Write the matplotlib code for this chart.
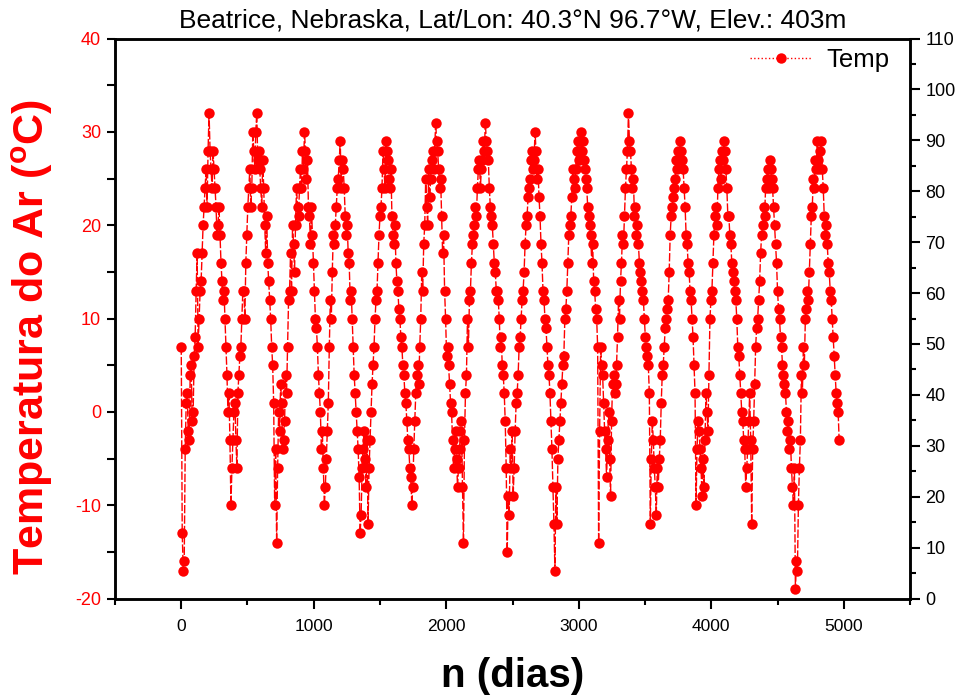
import numpy as np
import matplotlib
matplotlib.use("Agg")
import matplotlib.pyplot as plt
from matplotlib.ticker import MultipleLocator

# readings every 7.5 days, stored as two interleaved lists
step_days = 7.5
temps_a = [
    7, -17, -4, 2, -3, 5, 0, 8, 17, 10, 14, 20, 24, 22, 32, 26, 28, 24, 19, 22,
    16, 12, 10, 4, 2, -10, -3, 1, -6, 4, 7, 13, 10, 19, 24, 22, 30, 26, 32, 28,
    24, 27, 20, 21, 14, 10, 5, -10, -14, 0, 3, -4, -1, 2, 12, 17, 20, 15, 24, 21,
    26, 28, 30, 25, 22, 18, 19, 13, 9, 4, 0, -2, -10, -5, 1, 12, 15, 18, 22, 25,
    29, 27, 24, 19, 17, 12, 10, 4, 0, -4, -13, -6, -2, -8, -12, -3, 3, 7, 12, 16,
    21, 24, 26, 29, 27, 24, 21, 18, 16, 13, 10, 7, 4, 1, -3, -6, -10, -4, 2, 5,
    7, 15, 18, 25, 20, 23, 27, 26, 31, 28, 24, 21, 19, 10, 7, 3, 0, -6, -2, -8,
    -4, -1, -14, 2, 10, 12, 16, 19, 22, 24, 27, 26, 29, 31, 28, 24, 21, 18, 15, 13,
    10, 8, 4, -1, -15, -11, -6, -9, -2, 2, 7, 10, 13, 18, 21, 24, 27, 26, 30, 25,
    23, 18, 13, 10, 7, 4, -1, -8, -17, -12, -3, 1, 5, 10, 13, 19, 21, 26, 24, 28,
    27, 30, 29, 26, 24, 21, 19, 18, 13, 10, -14, 7, 4, -2, -7, 0, -9, 3, 2, 5,
    12, 14, 19, 21, 26, 32, 28, 24, 21, 19, 18, 15, 13, 10, 7, 5, -12, -1, -6, -11,
    -8, -3, 4, 7, 10, 12, 19, 22, 24, 27, 28, 29, 27, 24, 19, 16, 13, 10, 5, -10,
    -1, -4, -9, -8, 2, -2, 10, 13, 19, 22, 24, 27, 28, 29, 26, 21, 19, 16, 14, 12,
    7, 4, 0, -3, -8, -4, 2, -12, -1, 7, 10, 14, 19, 22, 24, 26, 27, 25, 22, 18,
    13, 10, 7, 4, 2, -2, -4, -6, -10, -19, -17, -6, 4, 7, 10, 13, 15, 21, 25, 27,
    29, 26, 29, 24, 19, 18, 15, 12, 8, 4, 1, -3,
]
temps_b = [
    -13, -16, 1, -2, 4, -1, 6, 13, 7, 13, 17, 22, 26, 28, 28, 24, 26, 22, 20, 19,
    14, 13, 7, 0, -3, -6, 0, -3, 2, 6, 10, 13, 16, 22, 26, 24, 28, 30, 27, 26,
    22, 24, 17, 16, 12, 7, 1, -4, -6, -2, 1, -3, 4, 7, 13, 13, 18, 20, 22, 24,
    24, 26, 28, 27, 21, 22, 16, 10, 7, 2, -4, -6, -8, -2, 7, 10, 19, 20, 24, 27,
    24, 26, 21, 20, 16, 13, 7, 2, -2, -7, -11, -4, -5, -3, -6, 0, 5, 10, 13, 19,
    22, 28, 24, 28, 25, 26, 19, 20, 14, 11, 8, 5, 2, -1, -4, -7, -8, -1, 4, 3,
    10, 13, 20, 22, 26, 25, 28, 28, 29, 26, 25, 17, 13, 6, 5, 1, -3, -4, -5, -6,
    -2, -8, -3, 4, 7, 13, 18, 20, 21, 26, 24, 27, 28, 29, 27, 22, 20, 16, 13, 12,
    7, 5, 2, -6, -9, -4, -2, -6, 1, 4, 8, 12, 15, 20, 23, 25, 28, 27, 28, 26,
    21, 16, 12, 9, 5, 2, -4, -12, -8, -5, -1, 3, 6, 11, 16, 20, 23, 25, 26, 29,
    28, 28, 27, 25, 22, 20, 16, 14, 11, 7, -2, 5, 1, -4, -3, -5, -1, 4, 3, 8,
    10, 16, 18, 24, 28, 29, 26, 25, 22, 20, 16, 14, 12, 8, 6, 2, -5, -3, -8, -6,
    -5, 1, 5, 9, 11, 15, 21, 23, 25, 26, 27, 28, 26, 22, 18, 15, 12, 8, 2, -4,
    -2, -6, -5, -3, 0, 4, 12, 16, 21, 20, 26, 25, 27, 28, 24, 21, 18, 15, 13, 10,
    6, 2, -1, -4, -6, -1, -3, -4, 3, 9, 12, 17, 20, 21, 25, 24, 26, 24, 20, 16,
    11, 8, 5, 3, 0, -1, -3, -8, -6, -16, -10, -3, 2, 5, 11, 12, 18, 22, 24, 26,
    27, 28, 26, 21, 20, 16, 13, 10, 6, 2, 0,
]

title = "Beatrice, Nebraska, Lat/Lon: 40.3°N 96.7°W, Elev.: 403m"
xlabel = "n (dias)"
ylabel = r"Temperatura do Ar ($\mathbf{^o}$C)"
series_name = "Temp"

temps = []
for i, a in enumerate(temps_a):
    temps.append(a)
    if i < len(temps_b):
        temps.append(temps_b[i])
days = np.arange(len(temps)) * step_days

plt.rcParams['font.family'] = ['Liberation Sans', 'DejaVu Sans']
plt.rcParams['mathtext.fontset'] = 'custom'
plt.rcParams['mathtext.bf'] = 'Liberation Sans:bold'
plt.rcParams['mathtext.rm'] = 'Liberation Sans'
plt.rcParams['axes.unicode_minus'] = False

fig = plt.figure(figsize=(9.63, 7.0), dpi=100)
ax = fig.add_axes([0.1194, 0.145, 0.8256, 0.800])

ax.plot(days, temps, color='red', linestyle=(0, (6, 1.5)), linewidth=1.0,
        marker='o', markersize=7.5, markeredgewidth=0, label=series_name)

ax.set_xlim(-500, 5500)
ax.set_ylim(-20, 40)
ax.xaxis.set_major_locator(MultipleLocator(1000))
ax.xaxis.set_minor_locator(MultipleLocator(500))
ax.yaxis.set_major_locator(MultipleLocator(10))
ax.yaxis.set_minor_locator(MultipleLocator(5))

for s in ax.spines.values():
    s.set_linewidth(1.8)

ax.tick_params(axis='x', which='major', direction='out', length=7, width=1.5,
               labelsize=12.5, colors='black', pad=8)
ax.tick_params(axis='x', which='minor', direction='out', length=4, width=1.5)
ax.tick_params(axis='y', which='major', direction='out', length=6, width=1.5,
               labelsize=13, labelcolor='red', color='black', pad=4)
ax.tick_params(axis='y', which='minor', direction='out', length=6, width=1.5)

ax.set_xlabel(xlabel, fontsize=29, fontweight='bold', labelpad=16)
ax.set_ylabel(ylabel, fontsize=31, fontweight='bold', color='red')
ax.yaxis.set_label_coords(-0.075, 0.467)
ax.set_title(title, fontsize=19, pad=8)

ax2 = ax.twinx()
ax2.set_ylim(0, 110)
ax2.yaxis.set_major_locator(MultipleLocator(10))
ax2.yaxis.set_minor_locator(MultipleLocator(5))
ax2.tick_params(axis='y', which='major', direction='out', length=7, width=1.5,
                labelsize=13, pad=4)
ax2.tick_params(axis='y', which='minor', direction='out', length=4, width=1.5)
for s in ax2.spines.values():
    s.set_linewidth(1.8)

leg = ax.legend(loc='upper right', frameon=False, fontsize=18.5,
                handlelength=2.4, handletextpad=0.6, borderaxespad=0.0,
                borderpad=0.1, bbox_to_anchor=(0.978, 0.988))
for h in leg.legend_handles:
    h.set_linestyle(':')

fig.savefig('out.png', dpi=100)
